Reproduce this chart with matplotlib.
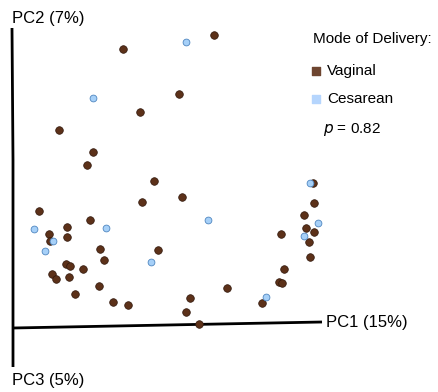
import matplotlib.pyplot as plt

plt.rcParams['font.family'] = ['Liberation Sans', 'DejaVu Sans']

# projected PCoA scores (screen plane of the 3D view)
vag_pc1 = [214, 123, 179, 140, 59, 93, 87, 154, 182, 142, 39, 49, 50, 67, 67, 90,
           100, 104, 158, 66, 70, 83, 52, 56, 69, 99, 75, 113, 128, 190, 186, 199,
           227, 313, 314, 304, 306, 314, 309, 281, 310, 284, 279, 282, 262]
vag_pc2 = [35, 49, 94, 112, 130, 152, 165, 181, 197, 202, 211, 234, 241, 227, 237, 220,
           249, 260, 250, 264, 266, 269, 274, 279, 277, 286, 294, 302, 305, 298, 312, 324,
           288, 183, 203, 215, 228, 232, 242, 234, 257, 269, 282, 283, 303]
ces_pc1 = [186, 93, 34, 53, 45, 106, 208, 151, 310, 318, 304, 266]
ces_pc2 = [42, 98, 229, 241, 251, 228, 220, 262, 183, 223, 236, 297]

groups = ['Vaginal', 'Cesarean']
colors = {'Vaginal': '#5c3119', 'Cesarean': '#a6d0f8'}
legend_colors = {'Vaginal': '#6e4530', 'Cesarean': '#b5d5fd'}
p_value = 0.82

fig = plt.figure(figsize=(4.38, 3.92), dpi=100)
ax = fig.add_axes([0, 0, 1, 1])
ax.set_xlim(0, 438)
ax.set_ylim(392, 0)
ax.axis('off')

# axis lines of the 3D view
ax.plot([12, 13, 13], [28, 160, 367], color='black', lw=2, solid_capstyle='butt')
ax.plot([13, 322], [328, 322], color='black', lw=2, solid_capstyle='butt')
ax.text(12, 18, 'PC2 (7%)', fontsize=12, va='center', ha='left')
ax.text(326, 323, 'PC1 (15%)', fontsize=12, va='center', ha='left')
ax.text(12, 381, 'PC3 (5%)', fontsize=12, va='center', ha='left')

ax.scatter(vag_pc1, vag_pc2, s=30, color=colors['Vaginal'], edgecolors='#2e160a',
           linewidths=0.5, zorder=3)
ax.scatter(ces_pc1, ces_pc2, s=24, color=colors['Cesarean'], edgecolors='#4f86c0',
           linewidths=0.6, zorder=4)

# legend
ax.text(313, 39, 'Mode of Delivery:', fontsize=11, va='center', ha='left')
for i, g in enumerate(groups):
    y = 71 + i * 28
    ax.scatter([316], [y], marker='s', s=30, color=legend_colors[g], zorder=5)
    ax.text(327, y, g, fontsize=11, va='center', ha='left')
ax.text(323, 130, f'$p$ = {p_value}', fontsize=11, va='center', ha='left')

fig.savefig('out.png', dpi=100)
